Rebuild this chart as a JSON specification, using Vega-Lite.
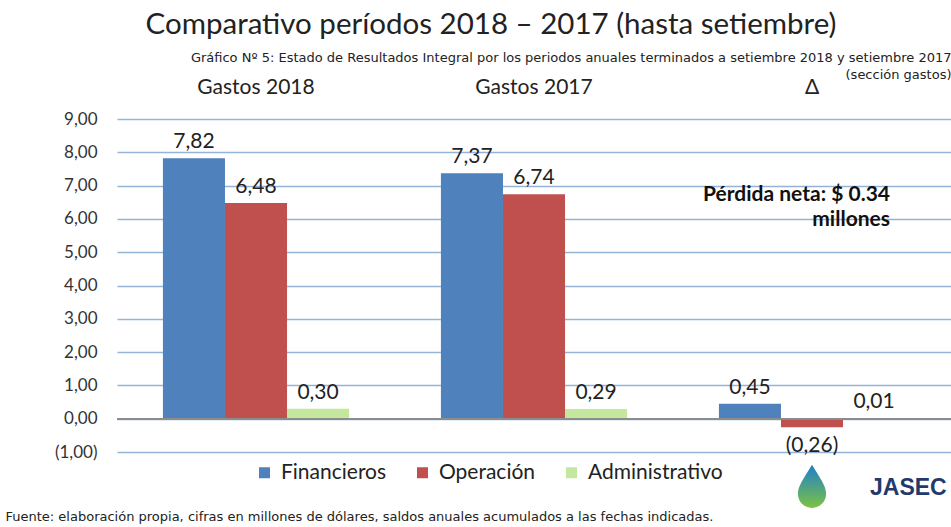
{
  "$schema": "https://vega.github.io/schema/vega-lite/v6.json",
  "width": 834,
  "height": 333,
  "autosize": {"type": "none"},
  "padding": {"left": 117, "top": 119, "right": 0, "bottom": 75},
  "background": "white",
  "config": {
    "locale": {"number": {"decimal": ",", "thousands": ".", "grouping": [3], "currency": ["$", ""]}},
    "font": "Lato",
    "view": {"stroke": null}
  },
  "title": {
    "text": "Comparativo períodos 2018 – 2017 (hasta setiembre)",
    "fontSize": 29.5,
    "font": "Lato",
    "fontWeight": "normal",
    "color": "#222222",
    "anchor": "middle",
    "frame": "group",
    "dx": -43,
    "offset": 11
  },
  "data": {
    "values": [
      {"grupo": "Gastos 2018", "tipo": "Financieros", "valor": 7.82},
      {"grupo": "Gastos 2018", "tipo": "Operación", "valor": 6.48},
      {"grupo": "Gastos 2018", "tipo": "Administrativo", "valor": 0.30},
      {"grupo": "Gastos 2017", "tipo": "Financieros", "valor": 7.37},
      {"grupo": "Gastos 2017", "tipo": "Operación", "valor": 6.74},
      {"grupo": "Gastos 2017", "tipo": "Administrativo", "valor": 0.29},
      {"grupo": "Δ", "tipo": "Financieros", "valor": 0.45},
      {"grupo": "Δ", "tipo": "Operación", "valor": -0.26},
      {"grupo": "Δ", "tipo": "Administrativo", "valor": 0.01}
    ]
  },
  "resolve": {"axis": {"x": "independent"}},
  "layer": [
    {
      "mark": {"type": "bar"},
      "encoding": {
        "x": {
          "field": "grupo", "type": "nominal", "sort": ["Gastos 2018", "Gastos 2017", "Δ"],
          "scale": {"paddingInner": 0, "paddingOuter": 0},
          "axis": {
            "orient": "top", "title": ["Gráfico Nº 5: Estado de Resultados Integral por los periodos anuales terminados a setiembre 2018 y setiembre 2017", "(sección gastos)"],
            "titleFontSize": 13, "titleFont": "DejaVu Sans", "titleFontWeight": "normal", "titleColor": "#222222",
            "titleAnchor": "end", "titleAlign": "right", "titleBaseline": "top", "titleY": -68, "titleLineHeight": 17,
            "labelAngle": 0, "labelFontSize": 21, "labelFont": "Lato", "labelColor": "#222222", "labelPadding": 22,
            "ticks": false, "tickSize": 0, "domain": false, "grid": false
          }
        },
        "xOffset": {"field": "tipo", "type": "nominal", "sort": ["Financieros", "Operación", "Administrativo"], "scale": {"paddingInner": 0, "paddingOuter": 0.74}},
        "y": {
          "field": "valor", "type": "quantitative",
          "scale": {"domain": [-1, 9], "nice": false, "zero": false},
          "axis": {
            "title": null, "values": [-1, 0, 1, 2, 3, 4, 5, 6, 7, 8, 9], "tickCount": 20, "format": "(.2f", "labelOverlap": false,
            "labelFontSize": 17, "labelFont": "Lato", "labelColor": "#333333", "labelPadding": 20,
            "ticks": false, "domain": false, "grid": true, "gridColor": "#95B3D7", "gridWidth": 1.5
          }
        },
        "color": {
          "field": "tipo", "type": "nominal", "sort": ["Financieros", "Operación", "Administrativo"],
          "scale": {"domain": ["Financieros", "Operación", "Administrativo"], "range": ["#4F81BD", "#C0504D", "#C3E79C"]},
          "legend": {
            "title": null, "orient": "none", "legendX": 137, "legendY": 343, "direction": "horizontal",
            "symbolType": "square", "symbolSize": 121, "symbolStrokeWidth": 0,
            "labelFontSize": 21, "labelFont": "Lato", "labelColor": "#222222", "columnPadding": 25, "labelOffset": 6
          }
        }
      }
    },
    {
      "mark": {"type": "rule", "color": "#8C8C8C", "strokeWidth": 1.5},
      "encoding": {"y": {"datum": 0}}
    },
    {
      "transform": [{"filter": "datum.valor >= 0"}],
      "mark": {"type": "text", "baseline": "bottom", "dy": -6, "fontSize": 21, "font": "Lato", "color": "#222222"},
      "encoding": {
        "x": {"field": "grupo", "type": "nominal", "sort": ["Gastos 2018", "Gastos 2017", "Δ"], "axis": null},
        "xOffset": {"field": "tipo", "type": "nominal", "sort": ["Financieros", "Operación", "Administrativo"]},
        "y": {"field": "valor", "type": "quantitative"},
        "text": {"field": "valor", "type": "quantitative", "format": "(.2f"}
      }
    },
    {
      "transform": [{"filter": "datum.valor < 0"}],
      "mark": {"type": "text", "baseline": "top", "dy": 8, "fontSize": 21, "font": "Lato", "color": "#222222"},
      "encoding": {
        "x": {"field": "grupo", "type": "nominal", "sort": ["Gastos 2018", "Gastos 2017", "Δ"], "axis": null},
        "xOffset": {"field": "tipo", "type": "nominal", "sort": ["Financieros", "Operación", "Administrativo"]},
        "y": {"field": "valor", "type": "quantitative"},
        "text": {"field": "valor", "type": "quantitative", "format": "(.2f"}
      }
    },
    {
      "data": {"values": [{"grupo": "Δ", "nota": "Pérdida neta: $ 0.34\nmillones"}]},
      "mark": {"type": "text", "align": "right", "baseline": "middle", "dx": 78, "fontSize": 21, "fontWeight": "bold", "font": "Lato", "color": "#111111", "lineBreak": "\n", "lineHeight": 25},
      "encoding": {
        "x": {
          "field": "grupo", "type": "nominal", "sort": ["Gastos 2018", "Gastos 2017", "Δ"],
          "axis": {
            "orient": "bottom", "labels": false, "ticks": false, "domain": false, "grid": false,
            "title": "Fuente: elaboración propia, cifras en millones de dólares, saldos anuales acumulados a las fechas indicadas.",
            "titleFontSize": 13, "titleFont": "DejaVu Sans", "titleFontWeight": "normal", "titleColor": "#222222",
            "titleAnchor": "start", "titleAlign": "left", "titleBaseline": "bottom", "titleX": -112, "titleY": 71
          }
        },
        "y": {"datum": 6.73},
        "text": {"field": "nota"}
      }
    },
    {
      "data": {"values": [{"grupo": "Δ", "logo": "JASEC"}]},
      "mark": {"type": "point", "filled": true, "size": 1250, "opacity": 1, "dx": 34, "strokeWidth": 0, "shape": "M0,-1.3 C0.45,-0.55 0.8,-0.1 0.8,0.35 A0.8,0.8 0 1,1 -0.8,0.35 C-0.8,-0.1 -0.45,-0.55 0,-1.3 Z",
        "color": {"gradient": "linear", "x1": 0, "y1": 0, "x2": 0, "y2": 1, "stops": [{"offset": 0, "color": "#1E7FCB"}, {"offset": 1, "color": "#7DC243"}]}},
      "encoding": {
        "x": {"field": "grupo", "type": "nominal", "sort": ["Gastos 2018", "Gastos 2017", "Δ"], "axis": null},
        "y": {"datum": -2.07}
      }
    },
    {
      "data": {"values": [{"grupo": "Δ", "logo": "JASEC"}]},
      "mark": {"type": "text", "align": "left", "baseline": "middle", "dx": 58, "fontSize": 23, "fontWeight": "bold", "font": "Liberation Sans", "color": "#1F3B6E"},
      "encoding": {
        "x": {"field": "grupo", "type": "nominal", "sort": ["Gastos 2018", "Gastos 2017", "Δ"], "axis": null},
        "y": {"datum": -2.07},
        "text": {"field": "logo"}
      }
    }
  ]
}
